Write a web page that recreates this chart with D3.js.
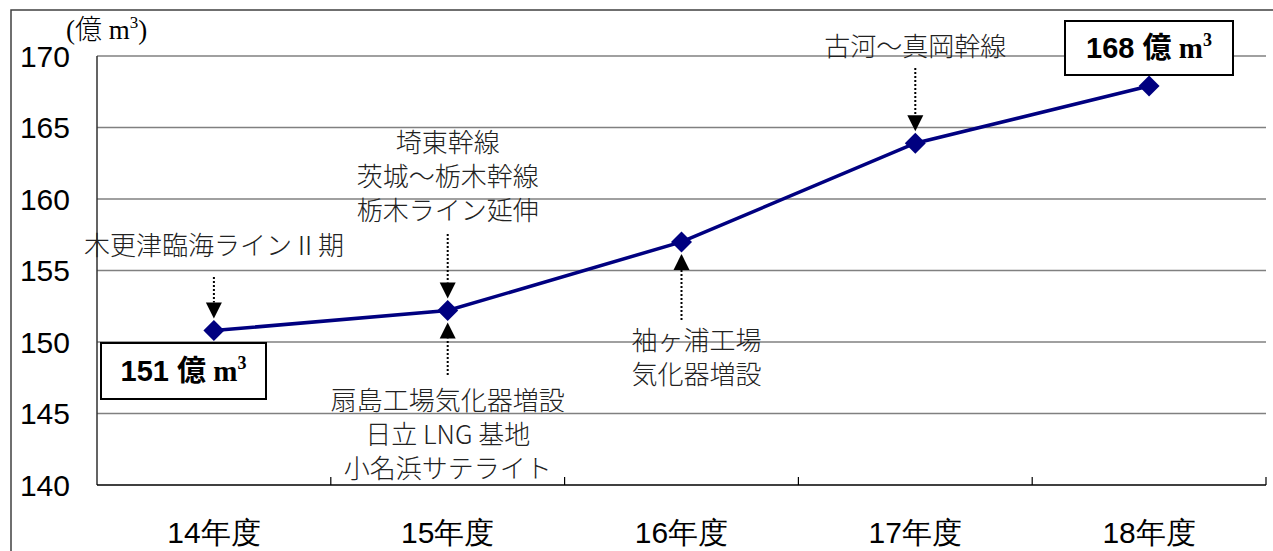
<!DOCTYPE html>
<meta charset="utf-8">
<style>
body {
  margin: 0;
  background: #fff;
}
.tick-label {
  font-family: "Liberation Sans", Arial, sans-serif;
  font-size: 30px;
  fill: #000;
}
.note {
  font-family: "Noto Sans CJK JP", sans-serif;
  font-size: 26px;
  font-weight: 300;
  fill: #222;
}
.grid line {
  stroke: #808080;
  stroke-width: 1.5;
}
</style>
<body>
<script src="https://cdn.jsdelivr.net/npm/d3@7/dist/d3.min.js"></script>
<script>

var width = 1273,
    height = 551;

// data
var years = ["14年度", "15年度", "16年度", "17年度", "18年度"];
var volume = [150.8, 152.2, 157.0, 163.9, 167.9];   // 億 m3
var yTicks = [140, 145, 150, 155, 160, 165, 170];

// annotations: category index, text lines, side of the point
var notes = [
  {i: 0, dir: "above", lines: ["木更津臨海ラインⅡ期"]},
  {i: 1, dir: "above", lines: ["埼東幹線", "茨城～栃木幹線", "栃木ライン延伸"]},
  {i: 1, dir: "below", lines: ["扇島工場気化器増設", "日立 LNG 基地", "小名浜サテライト"]},
  {i: 2, dir: "below", lines: ["袖ヶ浦工場", "気化器増設"]},
  {i: 3, dir: "above", lines: ["古河～真岡幹線"]}
];

// value boxes
var callouts = [
  {i: 0, value: "151"},
  {i: 4, value: "168"}
];

// layout for each note (text y of first line, arrow start), kept apart from the data
var noteLayout = [
  {textY: 246, arrowFrom: 277, dx: 0},
  {textY: 143, arrowFrom: 234, dx: 0},
  {textY: 401, arrowFrom: 375, dx: 0},
  {textY: 341, arrowFrom: 320, dx: 15},
  {textY: 47, arrowFrom: 68, dx: 0}
];
var calloutLayout = [
  {x: 101, y: 343, w: 165, h: 56},
  {x: 1065, y: 21, w: 168, h: 54}
];

var margin = {top: 56, right: 7, bottom: 66, left: 97};

var x = d3.scaleBand()
    .domain(years)
    .range([margin.left, width - margin.right]);

var y = d3.scaleLinear()
    .domain([140, 170])
    .range([height - margin.bottom, margin.top]);

var svg = d3.select("body").append("svg")
    .attr("width", width)
    .attr("height", height);

// outer frame
svg.append("path")
    .attr("d", "M11," + height + "V10H" + width)
    .attr("fill", "none")
    .attr("stroke", "#404040")
    .attr("stroke-width", 1.5);

// gridlines
svg.append("g")
    .attr("class", "grid")
  .selectAll("line")
    .data(yTicks.filter(function(d) { return d > 140; }))
  .enter().append("line")
    .attr("x1", margin.left)
    .attr("x2", width - margin.right)
    .attr("y1", function(d) { return y(d); })
    .attr("y2", function(d) { return y(d); });

// left axis line
svg.append("line")
    .attr("x1", margin.left).attr("x2", margin.left)
    .attr("y1", y(170)).attr("y2", y(140))
    .attr("stroke", "#303030")
    .attr("stroke-width", 1.5);

// bottom axis with tick marks between categories
var xBottom = y(140);
svg.append("line")
    .attr("x1", margin.left).attr("x2", width - margin.right)
    .attr("y1", xBottom).attr("y2", xBottom)
    .attr("stroke", "#000")
    .attr("stroke-width", 1.5);

svg.selectAll(".xtick")
    .data(years)
  .enter().append("line")
    .attr("class", "xtick")
    .attr("x1", function(d) { return x(d) + x.bandwidth(); })
    .attr("x2", function(d) { return x(d) + x.bandwidth(); })
    .attr("y1", xBottom)
    .attr("y2", xBottom - 8)
    .attr("stroke", "#000")
    .attr("stroke-width", 1.2);

// y tick labels
svg.selectAll(".ylab")
    .data(yTicks)
  .enter().append("text")
    .attr("class", "tick-label")
    .attr("x", 70)
    .attr("y", function(d) { return y(d); })
    .attr("dy", "0.36em")
    .attr("text-anchor", "end")
    .text(function(d) { return d; });

// x labels
svg.selectAll(".xlab")
    .data(years)
  .enter().append("text")
    .attr("class", "tick-label")
    .attr("x", function(d) { return x(d) + x.bandwidth() / 2; })
    .attr("y", 532)
    .attr("dy", "0.36em")
    .attr("text-anchor", "middle")
    .text(function(d) { return d; });

// unit
var unit = svg.append("text")
    .attr("x", 66)
    .attr("y", 39)
    .style("font-family", "'Liberation Serif', 'Noto Sans CJK JP', serif")
    .style("font-size", "27px")
    .attr("fill", "#000");
unit.append("tspan").text("(");
unit.append("tspan").style("font-family", "'Noto Sans CJK JP'").style("font-weight", 300).text("億");
unit.append("tspan").text(" m");
unit.append("tspan").attr("dy", -11).style("font-size", "17px").text("3");
unit.append("tspan").attr("dy", 11).text(")");

// line
var points = years.map(function(d, i) {
  return [x(d) + x.bandwidth() / 2, y(volume[i])];
});

svg.append("path")
    .datum(points)
    .attr("fill", "none")
    .attr("stroke", "#000080")
    .attr("stroke-width", 3.5)
    .attr("d", d3.line());

svg.selectAll(".marker")
    .data(points)
  .enter().append("path")
    .attr("class", "marker")
    .attr("d", d3.symbol().type(d3.symbolSquare).size(220))
    .attr("transform", function(d) { return "translate(" + d[0] + "," + d[1] + ") rotate(45)"; })
    .attr("fill", "#000080");

// annotations with dotted arrows
var lineGap = 34;
notes.forEach(function(n, k) {
  var L = noteLayout[k];
  var p = points[n.i];
  var up = n.dir === "above";
  var tip = up ? p[1] - 12 : p[1] + 12;
  var headLen = 16, headW = 8;
  var base = up ? tip - headLen : tip + headLen;

  svg.append("line")
      .attr("x1", p[0]).attr("x2", p[0])
      .attr("y1", L.arrowFrom).attr("y2", base)
      .attr("stroke", "#000")
      .attr("stroke-width", 2)
      .attr("stroke-dasharray", "2,2");

  svg.append("path")
      .attr("d", "M" + p[0] + "," + tip + "L" + (p[0] - headW) + "," + base + "L" + (p[0] + headW) + "," + base + "Z")
      .attr("fill", "#000");

  svg.selectAll(null)
      .data(n.lines)
    .enter().append("text")
      .attr("class", "note")
      .attr("x", p[0] + L.dx)
      .attr("y", function(d, j) { return L.textY + j * lineGap; })
      .attr("dy", "0.36em")
      .attr("text-anchor", "middle")
      .text(function(d) { return d; });
});

// value boxes
callouts.forEach(function(c, k) {
  var L = calloutLayout[k];
  svg.append("rect")
      .attr("x", L.x).attr("y", L.y)
      .attr("width", L.w).attr("height", L.h)
      .attr("fill", "#fff")
      .attr("stroke", "#000")
      .attr("stroke-width", 2);

  var t = svg.append("text")
      .attr("x", L.x + L.w / 2)
      .attr("y", L.y + L.h / 2 + 10)
      .attr("text-anchor", "middle")
      .style("font-weight", "bold")
      .style("font-size", "29px")
      .attr("fill", "#000");
  t.append("tspan").style("font-family", "'Liberation Sans', Arial").text(c.value + " ");
  t.append("tspan").style("font-family", "'Noto Sans CJK JP'").text("億");
  t.append("tspan").style("font-family", "'Liberation Serif', serif").text(" m");
  t.append("tspan").attr("dy", -12).style("font-family", "'Liberation Serif', serif").style("font-size", "18px").text("3");
});

</script>
